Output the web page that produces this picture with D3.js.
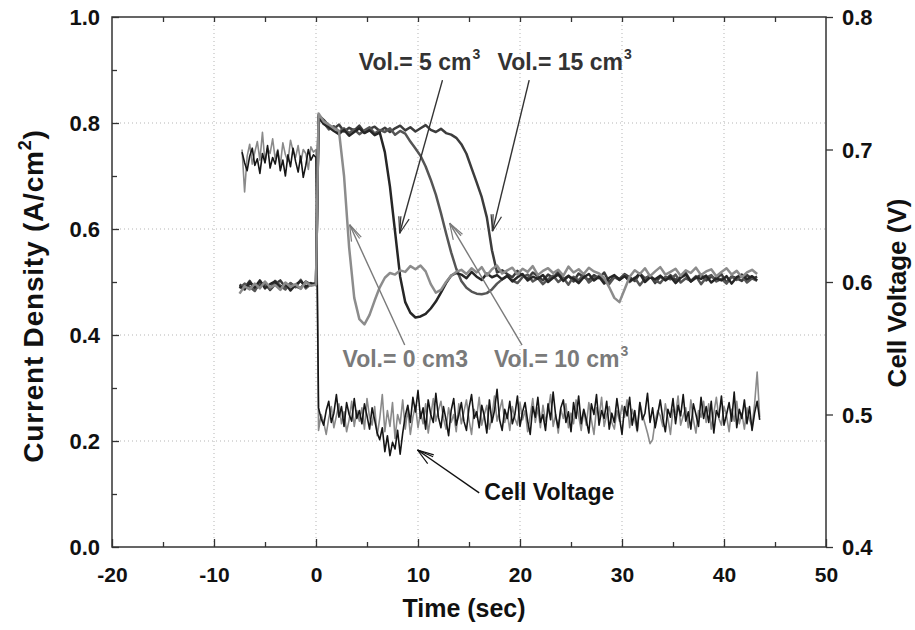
<!DOCTYPE html>
<html>
<head>
<meta charset="utf-8">
<script src="https://cdn.jsdelivr.net/npm/d3@7"></script>
<style>
	body { margin: 0; background: #fff; }
	svg { display: block; font-family: Arial, 'Liberation Sans', sans-serif; font-weight: bold; }
</style>
</head>
<body>
<div id="chart"></div>
<script>

// current density traces (A/cm2), pre = -7.5..0 every 0.5 s, post = 0.25..43.25 every 0.5 s
const curPreStart = -7.5;
const curPostStart = 0.25;
const curStep = 0.5;

const vol0Pre = [0.478,0.492,0.486,0.497,0.488,0.501,0.490,0.494,0.485,0.499,0.491,0.496,0.487,0.500,0.493,0.495];
const vol0Post = [0.818,0.803,0.797,0.790,0.785,0.700,0.565,0.470,0.430,0.420,0.438,0.465,0.490,0.508,0.517,0.514,
	0.522,0.519,0.530,0.524,0.531,0.520,0.496,0.480,0.485,0.500,0.512,0.519,0.523,0.515,0.526,
	0.518,0.528,0.512,0.524,0.531,0.516,0.522,0.527,
	0.514,0.525,0.519,0.530,0.513,0.521,0.526,0.517,
	0.523,0.512,0.529,0.518,0.524,0.515,0.527,0.520,
	0.516,0.508,0.490,0.470,0.462,0.486,0.510,0.522,
	0.515,0.526,0.511,0.520,0.528,0.514,0.519,0.525,
	0.512,0.522,0.517,0.527,0.513,0.520,0.524,0.511,
	0.519,0.526,0.514,0.521,0.509,0.518,0.523,0.515];

const vol5Pre = [0.492,0.486,0.499,0.490,0.503,0.488,0.496,0.501,0.489,0.497,0.484,0.495,0.502,0.491,0.498,0.494];
const vol5Post = [0.812,0.798,0.792,0.785,0.779,0.787,0.776,0.783,0.790,0.781,0.786,0.777,0.782,
	0.745,0.680,0.595,0.510,0.462,0.442,0.433,0.435,0.440,0.450,0.463,0.480,0.498,0.512,0.517,
	0.514,0.507,0.519,0.510,0.504,0.516,0.509,0.513,
	0.505,0.512,0.501,0.509,0.515,0.503,0.510,0.506,
	0.513,0.500,0.508,0.514,0.502,0.511,0.506,0.498,
	0.509,0.515,0.503,0.510,0.497,0.508,0.513,0.504,
	0.511,0.502,0.507,0.516,0.500,0.509,0.505,0.512,
	0.503,0.510,0.498,0.508,0.514,0.501,0.509,0.506,
	0.512,0.499,0.507,0.503,0.511,0.497,0.509,0.514,
	0.505,0.511,0.503];

const vol10Pre = [0.488,0.497,0.491,0.483,0.500,0.494,0.487,0.502,0.493,0.486,0.498,0.490,0.504,0.488,0.496,0.497];
const vol10Post = [0.808,0.801,0.788,0.794,0.783,0.790,0.781,0.788,0.779,0.786,0.792,0.780,0.787,0.783,0.790,0.778,0.785,0.780,
	0.765,0.752,0.738,0.718,0.693,0.665,0.630,0.592,0.556,0.525,0.502,0.489,0.482,0.478,0.477,0.479,0.486,0.497,0.505,
	0.511,0.503,0.498,0.509,0.514,0.501,0.507,0.496,
	0.505,0.512,0.500,0.508,0.495,0.510,0.503,0.514,
	0.499,0.507,0.511,0.502,0.496,0.509,0.504,0.513,
	0.500,0.508,0.494,0.506,0.512,0.503,0.498,0.510,
	0.505,0.514,0.499,0.507,0.502,0.511,0.496,0.508,
	0.513,0.501,0.506,0.497,0.510,0.504,0.512,0.499,
	0.507,0.502];

const vol15Pre = [0.495,0.489,0.502,0.487,0.494,0.499,0.485,0.496,0.503,0.490,0.497,0.492,0.488,0.501,0.495,0.498];
const vol15Post = [0.815,0.806,0.795,0.789,0.797,0.784,0.791,0.786,0.795,0.782,0.789,0.793,0.785,0.791,0.783,0.790,
	0.795,0.786,0.792,0.784,0.790,0.796,0.787,0.783,0.789,0.781,0.778,
	0.772,0.760,0.742,0.715,0.688,0.660,0.622,0.560,0.518,0.522,
	0.515,0.509,0.521,0.512,0.506,0.518,0.511,0.503,
	0.514,0.508,0.519,0.505,0.512,0.501,0.516,0.509,
	0.504,0.513,0.507,0.518,0.500,0.511,0.506,0.515,
	0.509,0.502,0.516,0.507,0.512,0.498,0.510,0.505,
	0.513,0.504,0.509,0.517,0.501,0.508,0.514,0.503,
	0.510,0.506,0.515,0.499,0.511,0.507,0.502,0.513,
	0.506,0.510];

// cell voltage traces (V), pre = -7.25..0 every 0.25 s, post = 0.25..43.5 every 0.25 s
const voltPreStart = -7.25;
const voltPostStart = 0.25;
const voltStep = 0.25;

const voltAPre = [0.698,0.690,0.684,0.695,0.701,0.688,0.693,0.682,0.697,0.690,0.703,0.686,0.694,0.689,0.699,
	0.684,0.692,0.680,0.696,0.687,0.701,0.691,0.683,0.695,0.679,0.688,0.700,0.692,0.696,0.694];
const voltAPost = [0.505,0.497,0.492,0.503,0.510,0.494,0.501,0.515,
	0.498,0.506,0.491,0.509,0.500,0.495,0.512,0.497,
	0.503,0.493,0.508,0.499,0.489,0.505,0.496,0.486,
	0.481,0.490,0.472,0.484,0.469,0.479,0.474,0.488,
	0.470,0.486,0.499,0.507,0.494,0.513,0.502,0.518,
	0.497,0.505,0.489,0.511,0.500,0.494,0.516,0.498,
	0.490,0.506,0.496,0.484,0.503,0.512,0.492,0.500,
	0.509,0.495,0.488,0.505,0.515,0.497,0.502,0.490,
	0.507,0.499,0.486,0.511,0.494,0.503,0.519,0.496,
	0.488,0.504,0.497,0.510,0.493,0.500,0.514,0.491,
	0.502,0.509,0.495,0.485,0.506,0.498,0.513,0.494,
	0.500,0.488,0.508,0.496,0.517,0.499,0.490,0.505,
	0.511,0.494,0.502,0.487,0.509,0.497,0.514,0.493,
	0.504,0.496,0.486,0.508,0.500,0.515,0.492,0.503,
	0.497,0.510,0.489,0.501,0.494,0.512,0.498,0.485,
	0.506,0.499,0.513,0.492,0.503,0.488,0.509,0.496,
	0.501,0.516,0.494,0.505,0.490,0.500,0.511,0.497,
	0.487,0.504,0.498,0.512,0.493,0.507,0.499,0.515,
	0.495,0.502,0.489,0.508,0.500,0.491,0.513,0.497,
	0.506,0.494,0.510,0.486,0.503,0.498,0.514,0.492,
	0.500,0.509,0.495,0.517,0.490,0.504,0.497,0.511,
	0.493,0.506,0.488,0.501,0.510,0.496];

const voltBPre = [0.700,0.668,0.695,0.704,0.689,0.698,0.706,0.692,0.713,0.690,0.701,0.697,0.708,0.693,0.700,
	0.688,0.705,0.696,0.691,0.707,0.699,0.694,0.703,0.690,0.700,0.697,0.685,0.702,0.698,0.700];
const voltBPost = [0.488,0.500,0.494,0.485,0.497,0.506,0.490,0.499,
	0.508,0.493,0.502,0.487,0.496,0.510,0.491,0.503,
	0.495,0.505,0.489,0.512,0.498,0.492,0.506,0.484,
	0.497,0.515,0.487,0.503,0.491,0.509,0.482,0.500,
	0.493,0.511,0.489,0.504,0.485,0.498,0.507,0.490,
	0.502,0.493,0.508,0.486,0.499,0.512,0.495,0.503,
	0.510,0.497,0.489,0.505,0.494,0.500,0.487,0.508,
	0.493,0.502,0.511,0.496,0.485,0.504,0.498,0.513,
	0.492,0.500,0.507,0.489,0.498,0.514,0.495,0.503,
	0.511,0.494,0.501,0.488,0.506,0.497,0.492,0.509,
	0.496,0.503,0.487,0.499,0.512,0.494,0.505,0.490,
	0.507,0.495,0.502,0.515,0.491,0.500,0.486,0.504,
	0.497,0.508,0.490,0.501,0.493,0.511,0.499,0.488,
	0.503,0.492,0.509,0.496,0.485,0.505,0.498,0.513,
	0.491,0.500,0.506,0.494,0.489,0.503,0.495,0.507,
	0.498,0.511,0.490,0.504,0.496,0.487,0.509,0.500,
	0.493,0.486,0.478,0.481,0.495,0.503,0.499,0.491,
	0.508,0.497,0.485,0.504,0.500,0.514,0.492,0.499,
	0.505,0.490,0.511,0.496,0.486,0.503,0.498,0.510,
	0.494,0.508,0.489,0.501,0.513,0.497,0.492,0.506,
	0.499,0.487,0.504,0.495,0.510,0.493,0.501,0.489,
	0.505,0.496,0.491,0.508,0.532,0.498];

const xTicks = [-20,-10,0,10,20,30,40,50];
const yLeftTicks = [0.0,0.2,0.4,0.6,0.8,1.0];
const yRightTicks = [0.4,0.5,0.6,0.7,0.8];

// annotation layout, in data units (time, current density)
const notes = [
	{ text: 'Vol.= 5 cm', sup: '3', at: [4.2, 0.9], from: [12.4, 0.881], to: [8.2, 0.592], tone: 'dark' },
	{ text: 'Vol.= 15 cm', sup: '3', at: [17.8, 0.9], from: [20.9, 0.881], to: [17.3, 0.596], tone: 'dark' },
	{ text: 'Vol.= 0 cm3', sup: '', at: [2.6, 0.34], from: [8.7, 0.381], to: [3.3, 0.608], tone: 'light' },
	{ text: 'Vol.= 10 cm', sup: '3', at: [17.45, 0.34], from: [20.2, 0.381], to: [13.1, 0.611], tone: 'light' },
	{ text: 'Cell Voltage', sup: '', at: [16.5, 0.089], from: [16.0, 0.102], to: [9.95, 0.183], tone: 'black' }
];

function makeSeries(pre, preStart, post, postStart, step)
{
	let pts = [];
	for(let i = 0; i < pre.length; i++)
		pts.push({ t: preStart + i * step, v: pre[i] });
	for(let i = 0; i < post.length; i++)
		pts.push({ t: postStart + i * step, v: post[i] });
	return pts;
}

let width = 915;
let height = 630;
let margin = { left: 112, right: 89, top: 17, bottom: 83 };

let x = d3.scaleLinear()
	.domain([-20, 50])
	.range([margin.left, width - margin.right]);

let y = d3.scaleLinear()
	.domain([0, 1])
	.range([height - margin.bottom, margin.top]);

let yV = d3.scaleLinear()
	.domain([0.4, 0.8])
	.range([height - margin.bottom, margin.top]);

let svg = d3.select('#chart').append('svg')
	.attr('width', width)
	.attr('height', height);

let x0 = x.range()[0], x1 = x.range()[1];
let y0 = y.range()[0], y1 = y.range()[1];

// dotted grid
svg.append('g')
	.selectAll('line')
	.data(xTicks.filter(d => d > -20 && d < 50))
	.enter()
	.append('line')
	.attr('x1', d => x(d))
	.attr('x2', d => x(d))
	.attr('y1', y1)
	.attr('y2', y0)
	.attr('stroke', '#b5b5b5')
	.attr('stroke-width', 1)
	.attr('stroke-dasharray', '1,3');

svg.append('g')
	.selectAll('line')
	.data(yLeftTicks.filter(d => d > 0 && d < 1))
	.enter()
	.append('line')
	.attr('x1', x0)
	.attr('x2', x1)
	.attr('y1', d => y(d))
	.attr('y2', d => y(d))
	.attr('stroke', '#b5b5b5')
	.attr('stroke-width', 1)
	.attr('stroke-dasharray', '1,3');

// traces
let line = d3.line()
	.x(d => x(d.t))
	.y(d => y(d.v));

let vLine = d3.line()
	.x(d => x(d.t))
	.y(d => yV(d.v));

let voltTraces = [
	{ pts: makeSeries(voltBPre, voltPreStart, voltBPost, voltPostStart, voltStep), color: '#8a8a8a' },
	{ pts: makeSeries(voltAPre, voltPreStart, voltAPost, voltPostStart, voltStep), color: '#151515' }
];

svg.append('g')
	.selectAll('path')
	.data(voltTraces)
	.enter()
	.append('path')
	.attr('d', d => vLine(d.pts))
	.attr('fill', 'none')
	.attr('stroke', d => d.color)
	.attr('stroke-width', 1.6)
	.attr('stroke-linejoin', 'round');

let curTraces = [
	{ pts: makeSeries(vol15Pre, curPreStart, vol15Post, curPostStart, curStep), color: '#3c3c3c' },
	{ pts: makeSeries(vol10Pre, curPreStart, vol10Post, curPostStart, curStep), color: '#555555' },
	{ pts: makeSeries(vol5Pre, curPreStart, vol5Post, curPostStart, curStep), color: '#262626' },
	{ pts: makeSeries(vol0Pre, curPreStart, vol0Post, curPostStart, curStep), color: '#8c8c8c' }
];

svg.append('g')
	.selectAll('path')
	.data(curTraces)
	.enter()
	.append('path')
	.attr('d', d => line(d.pts))
	.attr('fill', 'none')
	.attr('stroke', d => d.color)
	.attr('stroke-width', 2.5)
	.attr('stroke-linejoin', 'round');

// frame
svg.append('rect')
	.attr('x', x0)
	.attr('y', y1)
	.attr('width', x1 - x0)
	.attr('height', y0 - y1)
	.attr('fill', 'none')
	.attr('stroke', '#333')
	.attr('stroke-width', 1.5);

// axes
let fmt = d3.format('.1f');

let bottom = svg.append('g')
	.attr('transform', `translate(0, ${y0})`)
	.call(d3.axisBottom(x).tickValues(xTicks).tickSize(-8).tickPadding(20).tickFormat(d => String(d)));

svg.append('g')
	.attr('transform', `translate(0, ${y0})`)
	.call(d3.axisBottom(x).tickValues(d3.range(-15, 50, 10)).tickSize(-5).tickFormat(''));

svg.append('g')
	.attr('transform', `translate(0, ${y1})`)
	.call(d3.axisTop(x).tickValues(d3.range(-15, 50, 5)).tickSize(-5).tickFormat(''));

let left = svg.append('g')
	.attr('transform', `translate(${x0}, 0)`)
	.call(d3.axisLeft(y).tickValues(yLeftTicks).tickSize(-7).tickPadding(12).tickFormat(fmt));

svg.append('g')
	.attr('transform', `translate(${x0}, 0)`)
	.call(d3.axisLeft(y).tickValues([0.1,0.3,0.5,0.7,0.9]).tickSize(-5).tickFormat(''));

let right = svg.append('g')
	.attr('transform', `translate(${x1}, 0)`)
	.call(d3.axisRight(yV).tickValues(yRightTicks).tickSize(7).tickPadding(9).tickFormat(fmt));

svg.selectAll('.domain').remove();
svg.selectAll('.tick line')
	.attr('stroke', '#333')
	.attr('stroke-width', 1.3);

bottom.selectAll('text')
	.attr('font-size', 21)
	.attr('font-weight', 'bold')
	.attr('font-family', 'Arial, Liberation Sans, sans-serif')
	.attr('fill', '#111');

left.selectAll('text')
	.attr('font-size', 22)
	.attr('font-weight', 'bold')
	.attr('font-family', 'Arial, Liberation Sans, sans-serif')
	.attr('dy', '0.36em')
	.attr('fill', '#111');

right.selectAll('text')
	.attr('font-size', 22)
	.attr('font-weight', 'bold')
	.attr('font-family', 'Arial, Liberation Sans, sans-serif')
	.attr('dy', '0.36em')
	.attr('fill', '#111');

// axis titles
svg.append('text')
	.attr('x', (x0 + x1) / 2 - 5)
	.attr('y', 617)
	.attr('text-anchor', 'middle')
	.attr('font-size', 25)
	.attr('fill', '#111')
	.text('Time (sec)');

let ltitle = svg.append('text')
	.attr('transform', 'translate(43, 296) rotate(-90)')
	.attr('text-anchor', 'middle')
	.attr('font-size', 28)
	.attr('letter-spacing', 0.8)
	.attr('fill', '#111');
ltitle.append('tspan').text('Current Density (A/cm');
ltitle.append('tspan').attr('font-size', 18).attr('dy', -12).text('2');
ltitle.append('tspan').attr('dy', 12).text(')');

svg.append('text')
	.attr('transform', 'translate(906, 293) rotate(-90)')
	.attr('text-anchor', 'middle')
	.attr('font-size', 26)
	.attr('fill', '#111')
	.text('Cell Voltage (V)');

// annotations
let toneColor = { dark: '#333333', light: '#7a7a7a', black: '#111111' };

for(let n of notes)
{
	let c = toneColor[n.tone];

	let t = svg.append('text')
		.attr('x', x(n.at[0]))
		.attr('y', y(n.at[1]))
		.attr('font-size', 23)
		.attr('fill', c);
	t.append('tspan').text(n.text);
	if(n.sup != '')
		t.append('tspan').attr('font-size', 14).attr('dy', -11).attr('dx', 1).text(n.sup);

	let ax = x(n.from[0]), ay = y(n.from[1]);
	let bx = x(n.to[0]), by = y(n.to[1]);
	let ang = Math.atan2(by - ay, bx - ax);
	let len = 17;

	svg.append('line')
		.attr('x1', ax).attr('y1', ay)
		.attr('x2', bx).attr('y2', by)
		.attr('stroke', c)
		.attr('stroke-width', 1.4);

	[-0.32, 0.32, -0.2].forEach(da => {
		svg.append('line')
			.attr('x1', bx).attr('y1', by)
			.attr('x2', bx - len * Math.cos(ang + da))
			.attr('y2', by - len * Math.sin(ang + da))
			.attr('stroke', c)
			.attr('stroke-width', 1.2);
	});
}

</script>
</body>
</html>
